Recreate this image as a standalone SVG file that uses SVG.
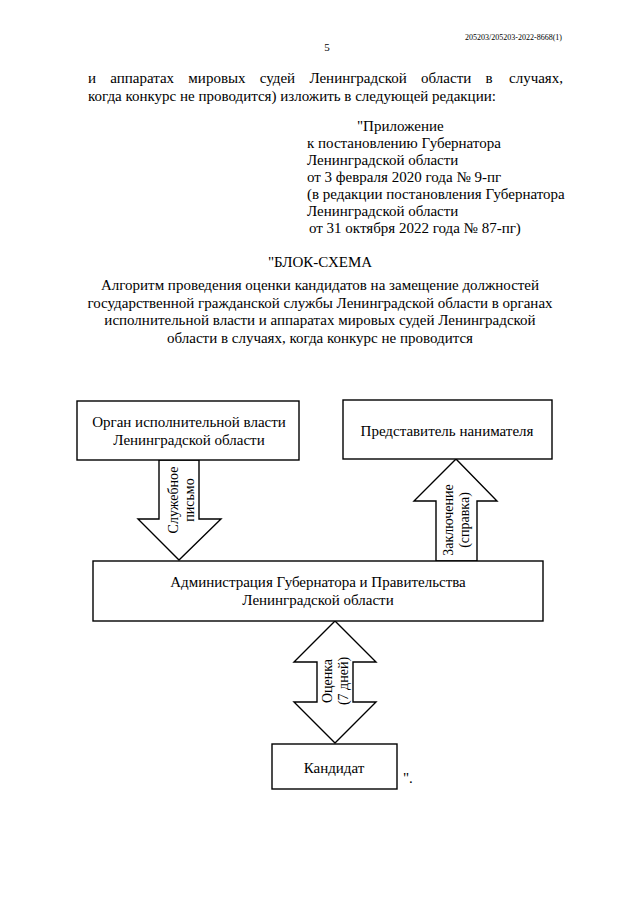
<svg xmlns="http://www.w3.org/2000/svg" width="640" height="900" viewBox="0 0 640 900">
<style>
text{font-family:"Liberation Serif","Times New Roman",serif;fill:#000;}
.t{font-size:15px;}
.c{text-anchor:middle;}
.v{font-size:14px;text-anchor:middle;}
.box{fill:#fff;stroke:#000;stroke-width:1.4;}
.arr{fill:#fff;stroke:#000;stroke-width:1.4;stroke-linejoin:miter;}
</style>
<rect width="640" height="900" fill="#fff"/>
<g id="header">
<text x="562" y="40" style="font-size:8px;text-anchor:end">205203/205203-2022-8668(1)</text>
<text x="327" y="51" style="font-size:11px;text-anchor:middle">5</text>
<text x="88" y="83" class="t" word-spacing="10.5">и аппаратах мировых судей Ленинградской области в</text>
<text x="563" y="83" class="t" text-anchor="end">случаях,</text>
<text x="88" y="101" class="t">когда конкурс не проводится) изложить в следующей редакции:</text>
<text x="357" y="131" class="t">"Приложение</text>
<text x="307" y="148" class="t">к постановлению Губернатора</text>
<text x="307" y="165" class="t">Ленинградской области</text>
<text x="307" y="182" class="t">от 3 февраля 2020 года № 9-пг</text>
<text x="307" y="199" class="t">(в редакции постановления Губернатора</text>
<text x="307" y="216" class="t">Ленинградской области</text>
<text x="309" y="233" class="t">от 31 октября 2022 года № 87-пг)</text>
</g>
<g id="title">
<text x="320" y="267" class="t c">"БЛОК-СХЕМА</text>
<text x="320" y="290" class="t c">Алгоритм проведения оценки кандидатов на замещение должностей</text>
<text x="320" y="308" class="t c">государственной гражданской службы Ленинградской области в органах</text>
<text x="320" y="325" class="t c">исполнительной власти и аппаратах мировых судей Ленинградской</text>
<text x="320" y="343" class="t c">области в случаях, когда конкурс не проводится</text>
</g>
<g id="connectors">
<g id="arrow-letter">
<polygon class="arr" points="159,460 199,460 199,519 221,519 179,560 138,519 159,519"/>
<text class="v" transform="translate(178,500) rotate(-90)"><tspan x="0" y="0">Служебное</tspan><tspan x="0" y="16">письмо</tspan></text>
</g>
<g id="arrow-conclusion">
<polygon class="arr" points="456,459 497,501 477,501 477,561 436,561 436,501 414,501"/>
<text class="v" transform="translate(453,520) rotate(-90)"><tspan x="0" y="0">Заключение</tspan><tspan x="0" y="16">(справка)</tspan></text>
</g>
<g id="arrow-assessment">
<polygon class="arr" points="335,621 376,662 353,662 353,702 376,702 335,743 294,702 317,702 317,662 294,662"/>
<text class="v" transform="translate(332,681) rotate(-90)"><tspan x="0" y="0">Оценка</tspan><tspan x="0" y="16">(7 дней)</tspan></text>
</g>
</g>
<g id="node-organ">
<rect class="box" x="77" y="401" width="222" height="59"/>
<text x="189" y="427" class="t c">Орган исполнительной власти</text>
<text x="189" y="445" class="t c">Ленинградской области</text>
</g>
<g id="node-employer">
<rect class="box" x="343" y="400" width="209" height="59"/>
<text x="447" y="436" class="t c">Представитель нанимателя</text>
</g>
<g id="node-admin">
<rect class="box" x="93" y="561" width="450" height="60"/>
<text x="318" y="587" class="t c">Администрация Губернатора и Правительства</text>
<text x="318" y="605" class="t c">Ленинградской области</text>
</g>
<g id="node-candidate">
<rect class="box" x="272" y="744" width="125" height="45"/>
<text x="334" y="773" class="t c">Кандидат</text>
</g>
<text x="403" y="783" class="t">".</text>
</svg>
